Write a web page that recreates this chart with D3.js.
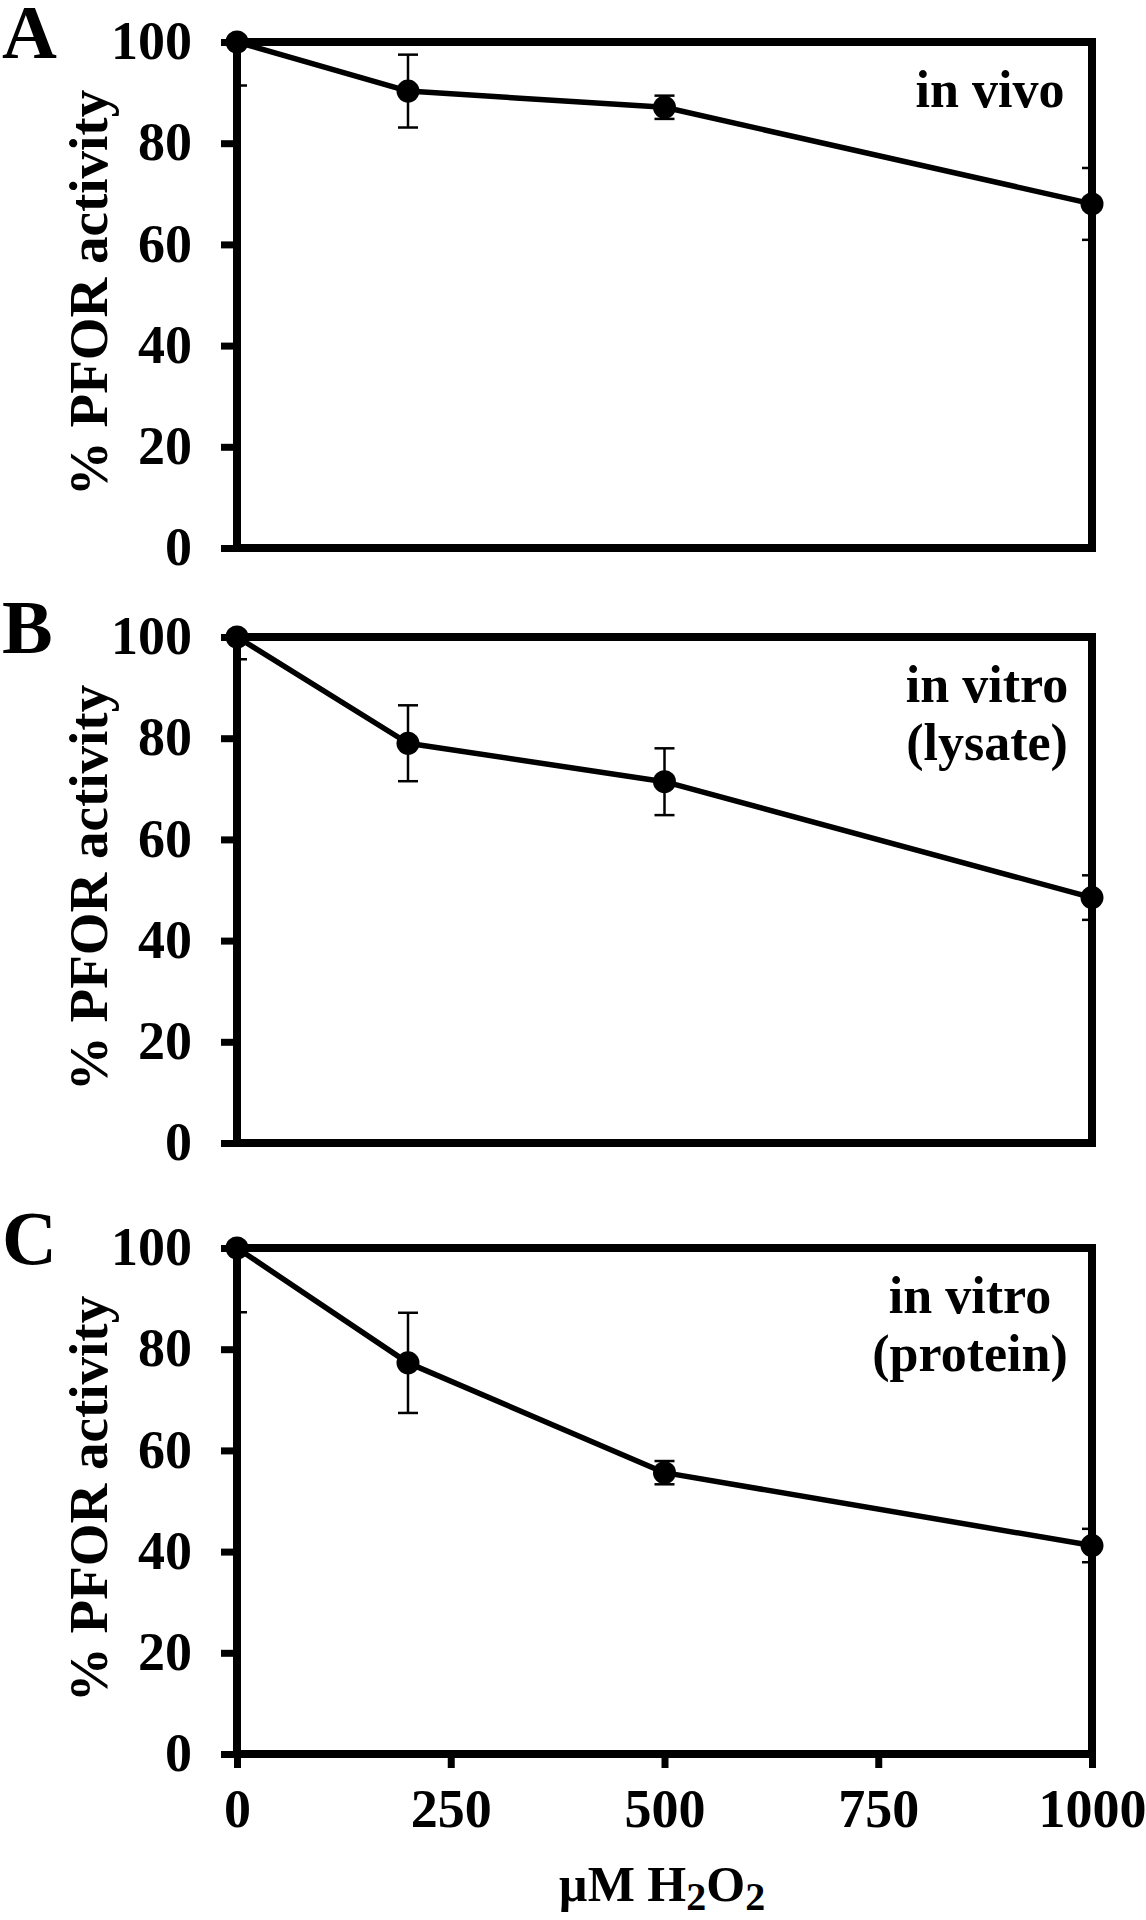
<!DOCTYPE html>
<html>
<head>
<meta charset="utf-8">
<script src="https://cdn.jsdelivr.net/npm/d3@7"></script>
<style>
  html, body { margin: 0; padding: 0; background: #fff; }
  svg { display: block; }
  text { font-family: "Liberation Serif", "Times New Roman", serif; font-weight: bold; fill: #000; }
</style>
</head>
<body>
<svg id="chart" width="1146" height="1920"></svg>
<script>
// ---- data ----
const doses = [0, 200, 500, 1000];
const vivoMean = [100, 90.3, 87.1, 68.0];
const vivoErr = [8.6, 7.2, 2.3, 7.1];
const lysateMean = [100, 79.0, 71.4, 48.5];
const lysateErr = [4.4, 7.5, 6.6, 4.4];
const proteinMean = [100, 77.3, 55.6, 41.2];
const proteinErr = [12.7, 9.9, 2.3, 3.3];
const panelLetters = ["A", "B", "C"];
const panelNotes = [["in vivo"], ["in vitro", "(lysate)"], ["in vitro", "(protein)"]];
const yTicks = [0, 20, 40, 60, 80, 100];
const xTicks = [0, 250, 500, 750, 1000];
const yLabel = "% PFOR activity";

// ---- layout ----
const svg = d3.select("#chart");
svg.append("rect").attr("width", 1146).attr("height", 1920).attr("fill", "#fff");
const left = 237, right = 1092;
const panelTops = [42, 637, 1248];
const panelH = 506;
const noteCX = [990, 987, 970];

const x = d3.scaleLinear().domain([0, 1000]).range([0, right - left]);
const w = right - left;

const series = [
  {mean: vivoMean, err: vivoErr},
  {mean: lysateMean, err: lysateErr},
  {mean: proteinMean, err: proteinErr}
];

series.forEach((s, i) => {
  const top = panelTops[i];
  const y = d3.scaleLinear().domain([0, 100]).range([panelH, 0]);
  const g = svg.append("g").attr("transform", `translate(${left},${top})`);
  const pts = doses.map((d, k) => ({x: d, m: s.mean[k], e: s.err[k]}));

  const clipId = "clip" + i;
  g.append("clipPath").attr("id", clipId)
    .append("rect").attr("x", 0).attr("y", 0).attr("width", w).attr("height", panelH);

  // y axis ticks & labels
  const ya = g.append("g").call(
    d3.axisLeft(y).tickValues(yTicks).tickFormat(d3.format("d"))
      .tickSizeInner(16).tickSizeOuter(0).tickPadding(29)
  );
  ya.select(".domain").remove();
  ya.selectAll(".tick line").attr("stroke", "#000").attr("stroke-width", 7);
  ya.selectAll(".tick text")
    .style("font-family", '"Liberation Serif", serif').style("font-weight", "bold")
    .attr("font-size", 54).attr("fill", "#000").attr("dy", "0.31em");

  // x axis (only bottom panel has ticks & labels)
  if (i === 2) {
    const xa = g.append("g").attr("transform", `translate(0,${panelH})`).call(
      d3.axisBottom(x).tickValues(xTicks).tickFormat(d3.format("d"))
        .tickSizeInner(14).tickSizeOuter(0).tickPadding(21)
    );
    xa.select(".domain").remove();
    xa.selectAll(".tick line").attr("stroke", "#000").attr("stroke-width", 7);
    xa.selectAll(".tick text")
      .style("font-family", '"Liberation Serif", serif').style("font-weight", "bold")
      .attr("font-size", 54).attr("fill", "#000").attr("dy", "0.71em");
  }

  // frame
  g.append("rect").attr("x", 0).attr("y", 0).attr("width", w).attr("height", panelH)
    .attr("fill", "none").attr("stroke", "#000").attr("stroke-width", 8);

  // line
  g.append("path").datum(pts)
    .attr("d", d3.line().x(d => x(d.x)).y(d => y(d.m)))
    .attr("fill", "none").attr("stroke", "#000").attr("stroke-width", 5.5)
    .attr("stroke-linejoin", "round");

  // error bars
  const eb = g.append("g").attr("clip-path", `url(#${clipId})`)
    .attr("stroke", "#000").attr("stroke-width", 2.5);
  pts.forEach(d => {
    const cx = x(d.x);
    eb.append("line").attr("x1", cx).attr("x2", cx).attr("y1", y(d.m + d.e)).attr("y2", y(d.m - d.e));
    eb.append("line").attr("x1", cx - 10).attr("x2", cx + 10).attr("y1", y(d.m + d.e)).attr("y2", y(d.m + d.e));
    eb.append("line").attr("x1", cx - 10).attr("x2", cx + 10).attr("y1", y(d.m - d.e)).attr("y2", y(d.m - d.e));
  });

  // markers
  g.selectAll("circle.pt").data(pts).enter().append("circle")
    .attr("class", "pt")
    .attr("cx", d => x(d.x)).attr("cy", d => y(d.m)).attr("r", 11.5).attr("fill", "#000");

  // notes
  const note = g.append("text").attr("text-anchor", "middle").attr("font-size", 52);
  panelNotes[i].forEach((t, k) => {
    note.append("tspan").attr("x", noteCX[i] - left).attr("y", 65 + k * 58).text(t);
  });

  // panel letter
  svg.append("text").attr("x", 2).attr("y", top + 16).attr("font-size", 76).text(panelLetters[i]);

  // y label
  svg.append("text")
    .attr("transform", `translate(107,${top + panelH / 2 - 2}) rotate(-90)`)
    .attr("text-anchor", "middle").attr("font-size", 55).text(yLabel);
});

// x axis label
const xl = svg.append("text").attr("x", 662).attr("y", 1901).attr("text-anchor", "middle").attr("font-size", 50);
xl.append("tspan").text("\u00B5M H");
xl.append("tspan").attr("font-size", 40).attr("dy", 9).text("2");
xl.append("tspan").attr("dy", -9).text("O");
xl.append("tspan").attr("font-size", 40).attr("dy", 9).text("2");
</script>
</body>
</html>
